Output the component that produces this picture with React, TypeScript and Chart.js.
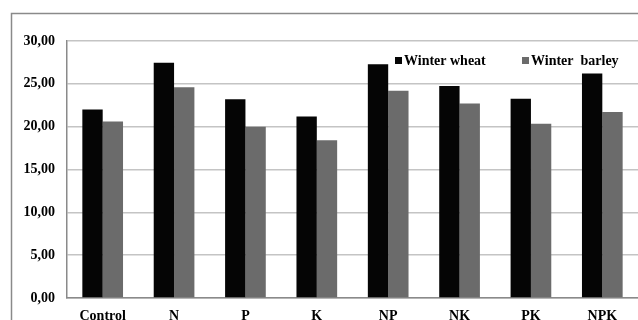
import React, { useEffect, useRef } from "react";
import { Chart, registerables } from "chart.js";
Chart.register(...registerables);

const categories = ["Control", "N", "P", "K", "NP", "NK", "PK", "NPK"];
const winterWheat = [22.0, 27.45, 23.2, 21.2, 27.3, 24.75, 23.25, 26.2];
const winterBarley = [20.6, 24.6, 20.0, 18.4, 24.2, 22.7, 20.35, 21.7];
const seriesNames = ["Winter wheat", "Winter  barley"];
const seriesColors = ["#050505", "#6b6b6b"];

const FONT = "'Liberation Serif', 'Times New Roman', serif";

const framePlugin = {
  id: "frame",
  beforeDraw(chart: any) {
    const ctx = chart.ctx;
    ctx.save();
    ctx.fillStyle = "#ffffff";
    ctx.fillRect(0, 0, chart.width, chart.height);
    ctx.strokeStyle = "#8a8a8a";
    ctx.lineWidth = 1.5;
    ctx.strokeRect(11.5, 13.5, chart.width + 20, chart.height + 20);
    ctx.restore();
  },
  afterDraw(chart: any) {
    const ctx = chart.ctx;
    ctx.save();
    ctx.font = `bold 14px ${FONT}`;
    ctx.textBaseline = "middle";
    const starts = [395, 522];
    seriesNames.forEach((n, i) => {
      ctx.fillStyle = seriesColors[i];
      ctx.fillRect(starts[i], 57, 7, 7);
      ctx.fillStyle = "#000";
      ctx.fillText(n, starts[i] + 9, 61);
    });
    ctx.restore();
  },
};

export default function App() {
  const ref = useRef<HTMLCanvasElement>(null);
  useEffect(() => {
    const chart = new Chart(ref.current!, {
      type: "bar",
      data: {
        labels: categories,
        datasets: [
          { label: seriesNames[0], data: winterWheat, backgroundColor: seriesColors[0] },
          { label: seriesNames[1], data: winterBarley, backgroundColor: seriesColors[1] },
        ],
      },
      options: {
        animation: false,
        responsive: false,
        maintainAspectRatio: false,
        layout: { padding: { top: 41, right: 0, left: 0, bottom: 0 } },
        datasets: { bar: { categoryPercentage: 0.57, barPercentage: 1.0 } },
        plugins: { legend: { display: false }, tooltip: { enabled: false } },
        scales: {
          x: {
            grid: { display: false, drawTicks: false },
            border: { color: "#8a8a8a", width: 1.5 },
            ticks: { color: "#000", font: { family: FONT, weight: "bold", size: 14 }, padding: 10 },
            afterFit(s: any) { s.height = 22; },
          },
          y: {
            min: 0,
            max: 30,
            grid: { color: "#c4c4c4", lineWidth: 1.5, drawTicks: false },
            border: { color: "#8a8a8a", width: 1.5 },
            ticks: {
              stepSize: 5,
              color: "#000",
              padding: 12,
              font: { family: FONT, weight: "bold", size: 14 },
              callback: (v: any) => Number(v).toFixed(2).replace(".", ","),
            },
            afterFit(s: any) { s.width = 67; },
          },
        },
      },
      plugins: [framePlugin],
    });
    return () => chart.destroy();
  }, []);
  return (
    <canvas
      ref={ref}
      width={638}
      height={320}
      style={{ position: "fixed", left: 0, top: 0, width: 638, height: 320 }}
    />
  );
}
